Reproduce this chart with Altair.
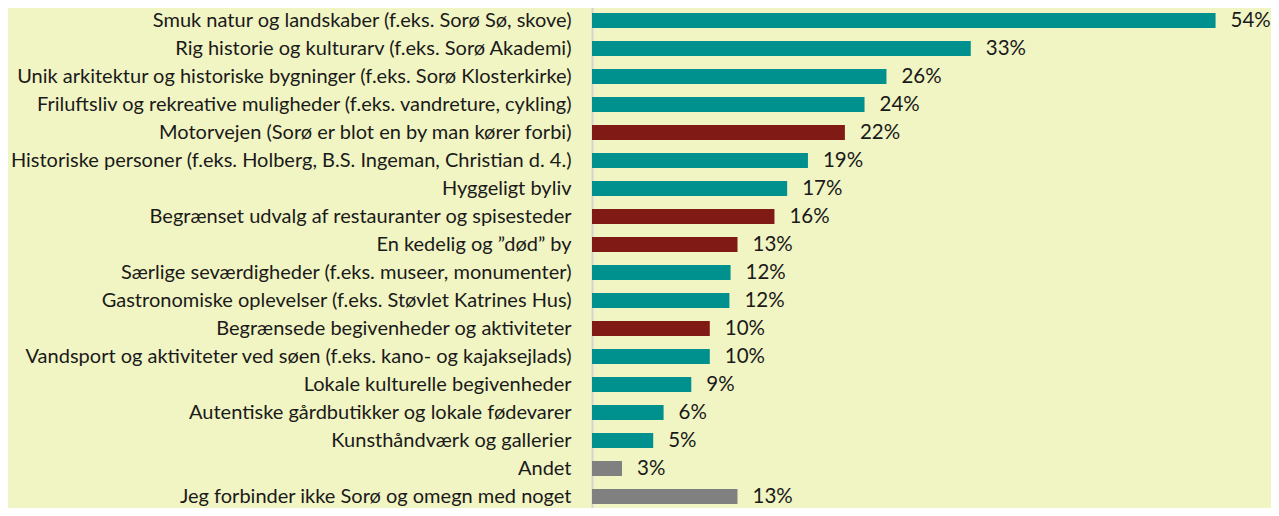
import altair as alt
import pandas as pd

categories = [
    "Smuk natur og landskaber (f.eks. Sorø Sø, skove)",
    "Rig historie og kulturarv (f.eks. Sorø Akademi)",
    "Unik arkitektur og historiske bygninger (f.eks. Sorø Klosterkirke)",
    "Friluftsliv og rekreative muligheder (f.eks. vandreture, cykling)",
    "Motorvejen (Sorø er blot en by man kører forbi)",
    "Historiske personer (f.eks. Holberg, B.S. Ingeman, Christian d. 4.)",
    "Hyggeligt byliv",
    "Begrænset udvalg af restauranter og spisesteder",
    "En kedelig og \u201dd\u00f8d\u201d by",
    "Særlige seværdigheder (f.eks. museer, monumenter)",
    "Gastronomiske oplevelser (f.eks. Støvlet Katrines Hus)",
    "Begrænsede begivenheder og aktiviteter",
    "Vandsport og aktiviteter ved søen (f.eks. kano- og kajaksejlads)",
    "Lokale kulturelle begivenheder",
    "Autentiske gårdbutikker og lokale fødevarer",
    "Kunsthåndværk og gallerier",
    "Andet",
    "Jeg forbinder ikke Sorø og omegn med noget",
]
values = [54.0, 32.8, 25.5, 23.6, 21.9, 18.7, 16.9, 15.8, 12.6, 12.0, 11.9,
          10.2, 10.2, 8.6, 6.2, 5.3, 2.6, 12.6]
labels = ["54%", "33%", "26%", "24%", "22%", "19%", "17%", "16%", "13%", "12%",
          "12%", "10%", "10%", "9%", "6%", "5%", "3%", "13%"]
kinds = ["pos", "pos", "pos", "pos", "neg", "pos", "pos", "neg", "neg", "pos",
         "pos", "neg", "pos", "pos", "pos", "pos", "other", "other"]

df = pd.DataFrame({"cat": categories, "value": values, "label": labels, "kind": kinds})

y = alt.Y("cat:N", sort=None,
          scale=alt.Scale(range=[-1.5, 502.5], paddingInner=0.464, paddingOuter=0.232),
          axis=alt.Axis(title=None, ticks=False, labelPadding=21, labelFontSize=20,
                        labelFont="Lato", labelColor="#1a1a1a", labelLimit=1000,
                        domainColor="#d3d3d3", domainWidth=2, grid=False))
x = alt.X("value:Q", scale=alt.Scale(domain=[0, 58.8]), axis=None)

bars = alt.Chart(df).mark_bar().encode(
    x=x, y=y,
    color=alt.Color("kind:N", scale=alt.Scale(domain=["pos", "neg", "other"],
                                              range=["#00918e", "#801a15", "#808080"]),
                    legend=None),
)
text = alt.Chart(df).mark_text(align="left", baseline="middle", dx=15, fontSize=20.5,
                               font="Lato", color="#1a1a1a").encode(
    x=x, y=y, text="label:N")

chart = (bars + text).properties(
    width=679, height=500,
    autosize=alt.AutoSizeParams(type="none"),
    padding={"left": 584, "top": 0, "right": 0, "bottom": 0},
    background="#f1f5c3",
).configure_view(stroke=None)

chart.save("out.html", embed_options={"renderer": "svg", "actions": False})
